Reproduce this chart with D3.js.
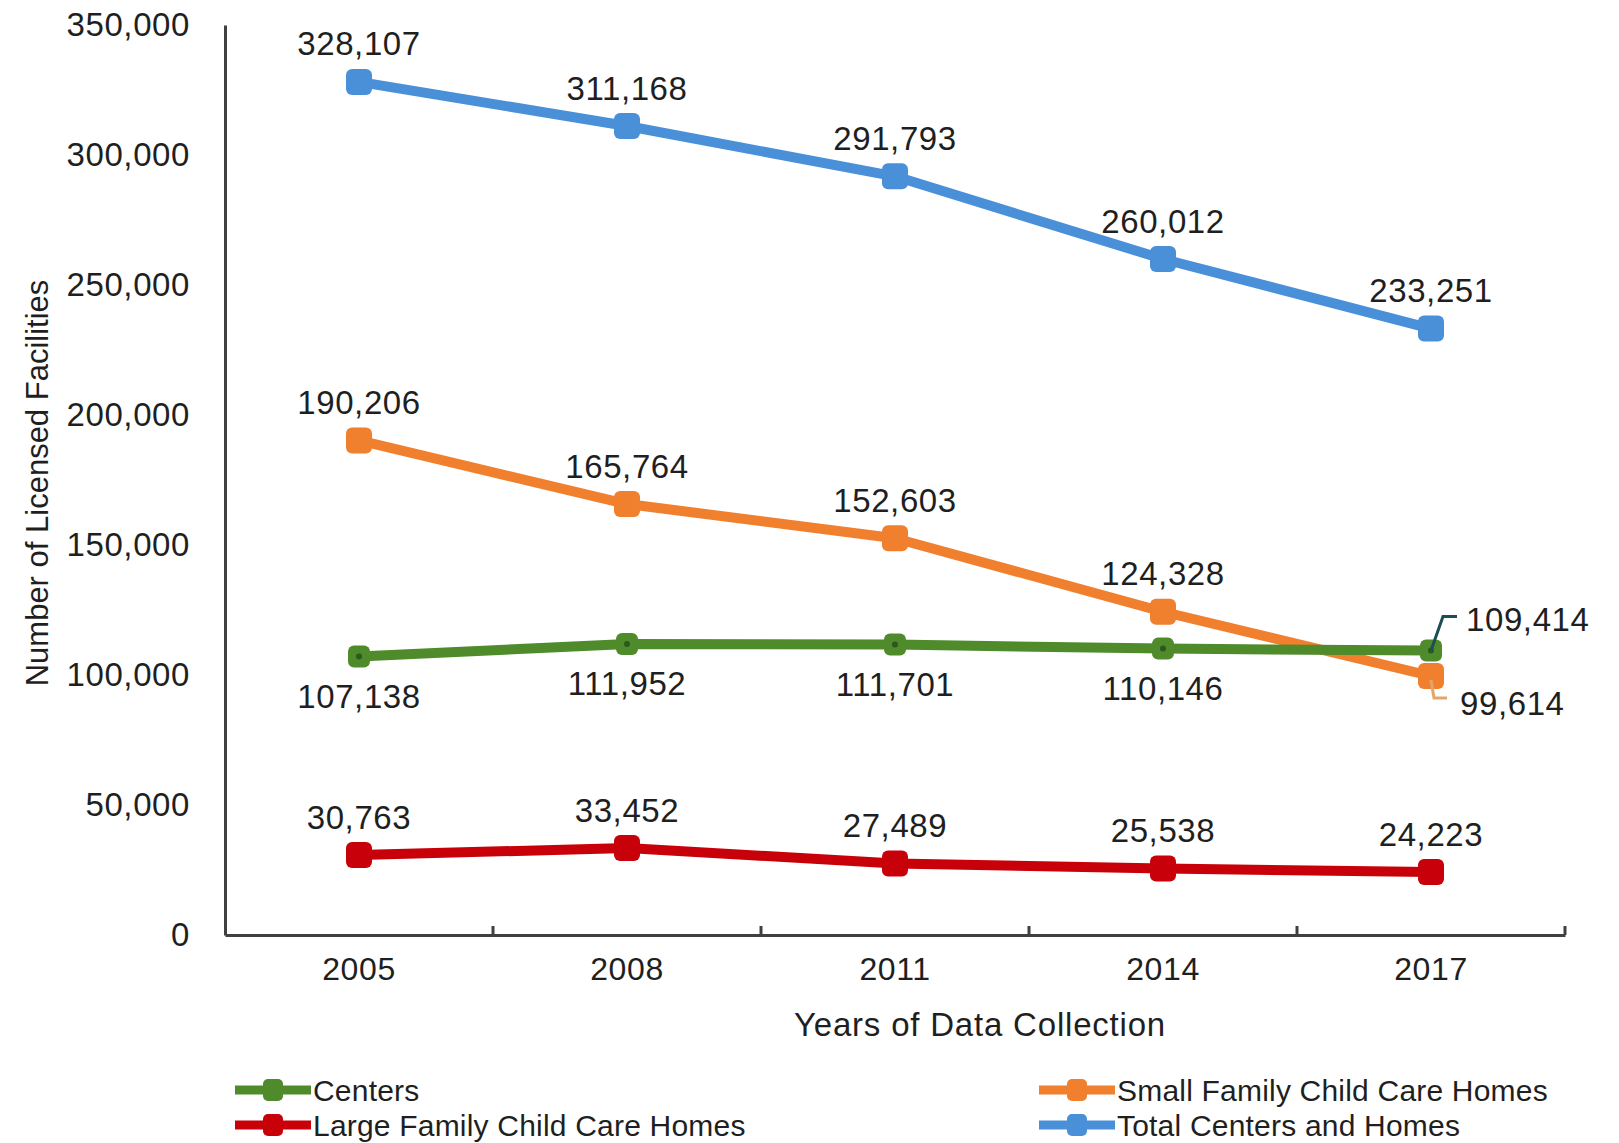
<!DOCTYPE html>
<html>
<head>
<meta charset="utf-8">
<script src="https://cdn.jsdelivr.net/npm/d3@7"></script>
<style>
  body { margin: 0; background: #fff; }
  svg text { font-family: "Liberation Sans", Arial, sans-serif; fill: #1f1f1f; }
</style>
</head>
<body>
<svg id="chart__svg" width="1619" height="1143"></svg>
<script>
// values
const years = ["2005", "2008", "2011", "2014", "2017"];
const yTicks = [0, 50000, 100000, 150000, 200000, 250000, 300000, 350000];
const centers = [107138, 111952, 111701, 110146, 109414];
const smallHomes = [190206, 165764, 152603, 124328, 99614];
const largeHomes = [30763, 33452, 27489, 25538, 24223];
const totals = [328107, 311168, 291793, 260012, 233251];

const SVG = d3.select("#chart__svg");
const WIDTH = 1619;
const HEIGHT = 1143;
const MARGIN = { top: 25, bottom: 208, right: 54, left: 225 };
const INNERWIDTH = WIDTH - MARGIN.left - MARGIN.right;
const INNERHEIGHT = HEIGHT - MARGIN.top - MARGIN.bottom;
const AXISCOLOR = "#404040";

const series = [
  { name: "Centers", values: centers, color: "#4f8a2b", marker: 22, dot: true, label: "below" },
  { name: "Small Family Child Care Homes", values: smallHomes, color: "#f07f2e", marker: 26, label: "above" },
  { name: "Large Family Child Care Homes", values: largeHomes, color: "#c8000a", marker: 26, label: "above" },
  { name: "Total Centers and Homes", values: totals, color: "#4a90d9", marker: 26, label: "above" },
];

const xScale = d3.scaleBand().domain(years).range([0, INNERWIDTH]).padding(0);
const yScale = d3.scaleLinear().domain([0, 350000]).range([INNERHEIGHT, 0]);
const cx = (i) => xScale(years[i]) + xScale.bandwidth() / 2;

const g = SVG.append("g")
  .attr("transform", "translate(" + MARGIN.left + "," + MARGIN.top + ")");

// y axis
const yAxis = g.append("g")
  .attr("id", "y-axis")
  .call(d3.axisLeft(yScale).tickValues(yTicks).tickSize(0).tickSizeOuter(0)
    .tickPadding(35).tickFormat(d3.format(",")));
yAxis.select(".domain").attr("stroke", AXISCOLOR).attr("stroke-width", 3);
yAxis.selectAll("text")
  .style("font-size", "33px")
  .style("letter-spacing", "0.6px")
  .attr("fill", "#1f1f1f");

// x axis
const xAxis = g.append("g")
  .attr("id", "x-axis")
  .attr("transform", "translate(0," + INNERHEIGHT + ")")
  .call(d3.axisBottom(xScale).tickSize(0).tickSizeOuter(0).tickPadding(22));
xAxis.select(".domain").attr("stroke", AXISCOLOR).attr("stroke-width", 3);
xAxis.selectAll("text")
  .style("font-size", "32px")
  .style("letter-spacing", "0.6px")
  .attr("fill", "#1f1f1f");

// tick marks between categories, pointing up
g.append("g")
  .selectAll("line")
  .data(years)
  .join("line")
  .attr("x1", (d) => xScale(d) + xScale.bandwidth())
  .attr("x2", (d) => xScale(d) + xScale.bandwidth())
  .attr("y1", INNERHEIGHT)
  .attr("y2", INNERHEIGHT - 9)
  .attr("stroke", AXISCOLOR)
  .attr("stroke-width", 3);

// axis titles
g.append("text")
  .attr("text-anchor", "middle")
  .attr("x", 980 - MARGIN.left)
  .attr("y", INNERHEIGHT + 101)
  .style("font-size", "33px")
  .style("letter-spacing", "0.8px")
  .text("Years of Data Collection");

g.append("text")
  .attr("text-anchor", "middle")
  .attr("transform", "translate(" + (-MARGIN.left + 48) + "," + (483 - MARGIN.top) + ") rotate(-90)")
  .style("font-size", "31px")
  .text("Number of Licensed Facilities");

// lines
const line = d3.line()
  .x((d, i) => cx(i))
  .y((d) => yScale(d));

const drawOrder = [series[3], series[1], series[0], series[2]];
drawOrder.forEach((s) => {
  const sg = g.append("g").attr("class", "series");
  sg.append("path")
    .datum(s.values)
    .attr("d", line)
    .attr("fill", "none")
    .attr("stroke", s.color)
    .attr("stroke-width", 10)
    .attr("stroke-linejoin", "round");
  sg.selectAll("rect")
    .data(s.values)
    .join("rect")
    .attr("x", (d, i) => cx(i) - s.marker / 2)
    .attr("y", (d) => yScale(d) - s.marker / 2)
    .attr("width", s.marker)
    .attr("height", s.marker)
    .attr("rx", 6)
    .attr("fill", s.color);
  if (s.dot) {
    sg.selectAll("circle")
      .data(s.values)
      .join("circle")
      .attr("cx", (d, i) => cx(i))
      .attr("cy", (d) => yScale(d))
      .attr("r", 3)
      .attr("fill", "#2a5a1c");
  }
});

// data labels
const fmt = d3.format(",");
series.forEach((s) => {
  s.values.forEach((v, i) => {
    const last = i === s.values.length - 1;
    let x = cx(i), y, anchor = "middle";
    if (s.label === "below") y = yScale(v) + 40;
    else y = yScale(v) - 38;
    if (last && s.name === "Centers") {
      x = cx(i) + 35; y = yScale(v) - 31; anchor = "start";
      g.append("path")
        .attr("d", d3.line()([[cx(i), yScale(v)], [cx(i) + 12, yScale(v) - 34], [cx(i) + 26, yScale(v) - 34]]))
        .attr("fill", "none")
        .attr("stroke", "#1d4e57")
        .attr("stroke-width", 3);
    }
    if (last && s.name === "Small Family Child Care Homes") {
      x = cx(i) + 29; y = yScale(v) + 27; anchor = "start";
      g.append("path")
        .attr("d", d3.line()([[cx(i), yScale(v) + 4], [cx(i) + 3, yScale(v) + 22], [cx(i) + 16, yScale(v) + 22]]))
        .attr("fill", "none")
        .attr("stroke", "#e3a56a")
        .attr("stroke-width", 3);
    }
    g.append("text")
      .attr("x", x)
      .attr("y", y)
      .attr("dy", "0.35em")
      .attr("text-anchor", anchor)
      .style("font-size", "33px")
      .style("letter-spacing", "0.6px")
      .text(fmt(v));
  });
});

// legend
const legendItems = [
  { s: series[0], x: 235, y: 1090 },
  { s: series[2], x: 235, y: 1125 },
  { s: series[1], x: 1039, y: 1090 },
  { s: series[3], x: 1039, y: 1125 },
];
const legend = SVG.append("g").attr("id", "legend");
legendItems.forEach((it) => {
  const lg = legend.append("g").attr("transform", "translate(" + it.x + "," + it.y + ")");
  lg.append("line")
    .attr("x1", 0).attr("x2", 76).attr("y1", 0).attr("y2", 0)
    .attr("stroke", it.s.color).attr("stroke-width", 9);
  lg.append("rect")
    .attr("x", 38 - 10).attr("y", -11).attr("width", 20).attr("height", 22).attr("rx", 5)
    .attr("fill", it.s.color);
  lg.append("text")
    .attr("x", 78)
    .attr("y", 0)
    .attr("dy", "0.35em")
    .style("font-size", "30px")
    .style("letter-spacing", "0.2px")
    .text(it.s.name);
});
</script>
</body>
</html>
